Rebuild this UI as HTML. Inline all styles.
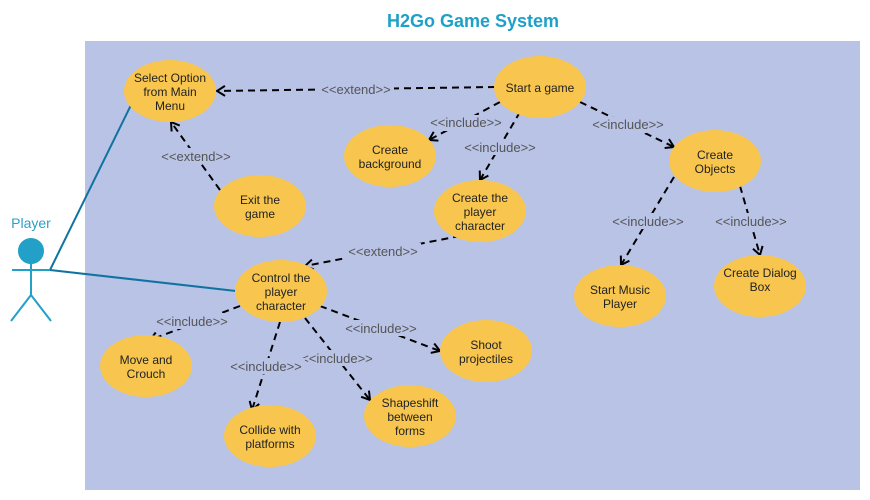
<!DOCTYPE html>
<html><head><style>body{margin:0;background:#fff}svg{display:block;font-family:"Liberation Sans",sans-serif}</style></head>
<body>
<svg width="870" height="500" viewBox="0 0 870 500" xmlns="http://www.w3.org/2000/svg">
<defs><marker id="a" markerWidth="12" markerHeight="12" refX="10" refY="6" orient="auto" markerUnits="userSpaceOnUse"><path d="M2,1 L10,6 L2,11" fill="none" stroke="#000" stroke-width="2"/></marker></defs>
<text x="473" y="27" text-anchor="middle" font-size="18" font-weight="bold" fill="#1ea0c8">H2Go Game System</text>
<rect x="85" y="41" width="775" height="449" fill="#b9c3e6"/>
<g stroke="#0f73a0" stroke-width="2" fill="none">
<line x1="50" y1="270" x2="131" y2="105"/><line x1="50" y1="270" x2="236" y2="291"/></g>
<text x="31" y="228" text-anchor="middle" font-size="14" fill="#2aa0c8">Player</text>
<g stroke="#22a0c8" stroke-width="2" fill="none"><circle cx="31" cy="251" r="12" fill="#22a0c8"/>
<line x1="31" y1="263" x2="31" y2="295"/><line x1="12" y1="270" x2="50" y2="270"/><line x1="31" y1="295" x2="11" y2="321"/><line x1="31" y1="295" x2="51" y2="321"/></g>
<g stroke="#000" stroke-width="2" stroke-dasharray="7,5" fill="none" marker-end="url(#a)">
<path d="M495,87 L217,91"/>
<path d="M220,190 L171,122"/>
<path d="M500,102 L429,140"/>
<path d="M520,112 L480,180"/>
<path d="M580,102 L674,147"/>
<path d="M460,236 L305,266"/>
<path d="M674,177 L621,265"/>
<path d="M740,186 L760,255"/>
<path d="M240,306 L150,340"/>
<path d="M280,322 L252,410"/>
<path d="M305,318 L370,400"/>
<path d="M320,306 L440,351"/>
</g>
<g font-size="13" fill="#555" text-anchor="middle">
<rect x="318" y="81" width="76" height="16" fill="#b9c3e6"/><text x="356" y="94">&lt;&lt;extend&gt;&gt;</text>
<rect x="158" y="148" width="76" height="16" fill="#b9c3e6"/><text x="196" y="161">&lt;&lt;extend&gt;&gt;</text>
<rect x="427" y="115" width="78" height="16" fill="#b9c3e6"/><text x="466" y="127">&lt;&lt;include&gt;&gt;</text>
<rect x="461" y="139" width="78" height="16" fill="#b9c3e6"/><text x="500" y="152">&lt;&lt;include&gt;&gt;</text>
<rect x="589" y="117" width="78" height="16" fill="#b9c3e6"/><text x="628" y="129">&lt;&lt;include&gt;&gt;</text>
<rect x="345" y="243" width="76" height="16" fill="#b9c3e6"/><text x="383" y="256">&lt;&lt;extend&gt;&gt;</text>
<rect x="609" y="213" width="78" height="16" fill="#b9c3e6"/><text x="648" y="226">&lt;&lt;include&gt;&gt;</text>
<rect x="712" y="213" width="78" height="16" fill="#b9c3e6"/><text x="751" y="226">&lt;&lt;include&gt;&gt;</text>
<rect x="153" y="313" width="78" height="16" fill="#b9c3e6"/><text x="192" y="326">&lt;&lt;include&gt;&gt;</text>
<rect x="342" y="320" width="78" height="16" fill="#b9c3e6"/><text x="381" y="333">&lt;&lt;include&gt;&gt;</text>
<rect x="298" y="350" width="78" height="16" fill="#b9c3e6"/><text x="337" y="363">&lt;&lt;include&gt;&gt;</text>
<rect x="227" y="358" width="78" height="16" fill="#b9c3e6"/><text x="266" y="371">&lt;&lt;include&gt;&gt;</text>
</g>
<g fill="#f8c64e">
<ellipse cx="170" cy="91" rx="46" ry="31"/><ellipse cx="540" cy="87" rx="46" ry="31"/>
<ellipse cx="390" cy="156" rx="46" ry="31"/><ellipse cx="715" cy="161" rx="46" ry="31"/>
<ellipse cx="260" cy="206" rx="46" ry="31"/><ellipse cx="480" cy="211" rx="46" ry="31"/>
<ellipse cx="281" cy="291" rx="46" ry="31"/><ellipse cx="620" cy="296" rx="46" ry="31"/>
<ellipse cx="760" cy="286" rx="46" ry="31"/><ellipse cx="146" cy="366" rx="46" ry="31"/>
<ellipse cx="486" cy="351" rx="46" ry="31"/><ellipse cx="410" cy="416" rx="46" ry="31"/>
<ellipse cx="270" cy="436" rx="46" ry="31"/></g>
<g font-size="12" fill="#222" text-anchor="middle">
<text x="170" y="82">Select Option</text><text x="170" y="96">from Main</text><text x="170" y="110">Menu</text>
<text x="540" y="92">Start a game</text>
<text x="390" y="154">Create</text><text x="390" y="168">background</text>
<text x="715" y="159">Create</text><text x="715" y="173">Objects</text>
<text x="260" y="204">Exit the</text><text x="260" y="218">game</text>
<text x="480" y="202">Create the</text><text x="480" y="216">player</text><text x="480" y="230">character</text>
<text x="281" y="282">Control the</text><text x="281" y="296">player</text><text x="281" y="310">character</text>
<text x="620" y="294">Start Music</text><text x="620" y="308">Player</text>
<text x="760" y="277">Create Dialog</text><text x="760" y="291">Box</text>
<text x="146" y="364">Move and</text><text x="146" y="378">Crouch</text>
<text x="486" y="349">Shoot</text><text x="486" y="363">projectiles</text>
<text x="410" y="407">Shapeshift</text><text x="410" y="421">between</text><text x="410" y="435">forms</text>
<text x="270" y="434">Collide with</text><text x="270" y="448">platforms</text>
</g>
</svg>
</body></html>
